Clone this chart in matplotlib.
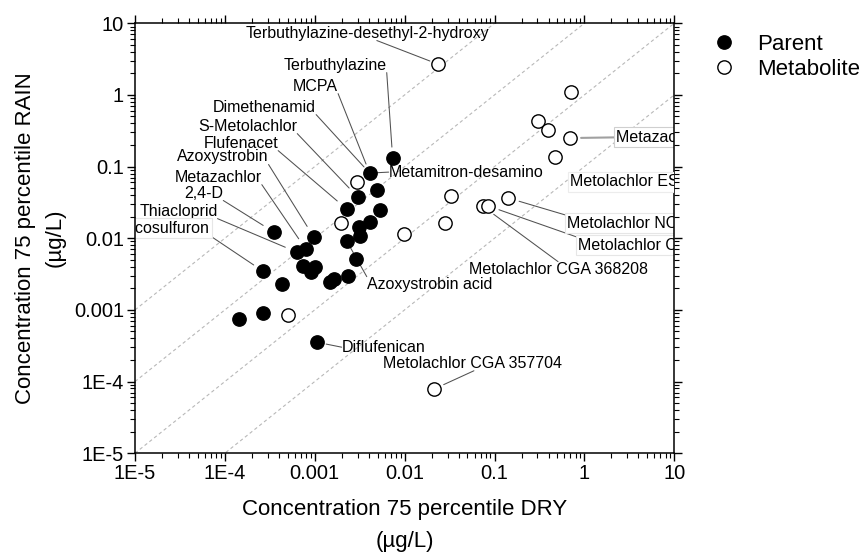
import numpy as np
import matplotlib
matplotlib.use('Agg')
import matplotlib.pyplot as plt
from matplotlib.lines import Line2D
from matplotlib.ticker import FixedLocator, FixedFormatter, LogLocator, NullFormatter

plt.rcParams['font.family'] = ['Liberation Sans', 'DejaVu Sans']

# 75 percentile concentrations (ug/L), dry vs rain
parent_dry = [0.00736, 0.00408, 0.00489, 0.00301, 0.00527, 0.00227, 0.00408, 0.00308,
              0.00316, 0.00227, 0.000975, 0.000794, 0.000631, 0.00286, 0.000736, 0.001,
              0.000903, 0.00233, 0.00163, 0.00147, 0.00035, 0.000265, 0.00043, 0.000265,
              0.000143, 0.00105]
parent_rain = [0.131, 0.0811, 0.047, 0.0375, 0.0247, 0.0255, 0.0168, 0.0143,
               0.0107, 0.00912, 0.0104, 0.00705, 0.0064, 0.0051, 0.00407, 0.00394,
               0.00336, 0.00296, 0.00268, 0.00244, 0.0122, 0.00347, 0.00229, 0.0009,
               0.00074, 0.000354]
metab_dry = [0.0233, 0.718, 0.308, 0.398, 0.699, 0.476, 0.0324, 0.143,
             0.0736, 0.0857, 0.0278, 0.00293, 0.00195, 0.00975, 0.0005, 0.021]
metab_rain = [2.70, 1.10, 0.432, 0.324, 0.25, 0.136, 0.0387, 0.0363,
              0.0281, 0.0281, 0.0163, 0.0608, 0.0163, 0.0114, 0.000844, 7.8e-5]

# ratio lines rain/dry
ratios = [100, 10, 1, 0.1]

tick_values = [1e-5, 1e-4, 1e-3, 1e-2, 1e-1, 1, 10]
tick_labels = ['1E-5', '1E-4', '0.001', '0.01', '0.1', '1', '10']

# labelled compounds: name, group (P=parent, M=metabolite), index in that group
label_names = ['Terbuthylazine-desethyl-2-hydroxy', 'Terbuthylazine', 'MCPA', 'Dimethenamid',
               'S-Metolachlor', 'Flufenacet', 'Azoxystrobin', 'Metazachlor', '2,4-D',
               'Thiacloprid', 'Nicosulfuron', 'Metamitron-desamino', 'Azoxystrobin acid',
               'Diflufenican', 'Metolachlor CGA 357704', 'Metolachlor CGA 368208',
               'Metolachlor CGA 37735', 'Metolachlor NOA 413173', 'Metazachlor ESA']
label_group = ['M', 'P', 'P', 'P', 'P', 'P', 'P', 'P', 'P', 'P', 'P', 'P', 'P', 'P',
               'M', 'M', 'M', 'M', 'M']
label_index = [0, 0, 1, 1, 3, 5, 10, 11, 20, 12, 21, 1, 9, 25, 15, 8, 9, 7, 4]

# label layout: text offset (pt), ha, line start (relpos), gap at point (pt), style
# style: 0 plain, 1 faint box clipped, 2 grey box clipped
label_layout = [
    ((-50.8, 22.3), 'center', (0.54, 0), 6, 0),
    ((-41.4, 67.0), 'center', (1, 0), 8, 0),
    ((-38.9, 62.6), 'center', (1, 0), 7, 0),
    ((-75.6, 47.5), 'center', (1, 0), 6, 0),
    ((-79.2, 51.1), 'center', (1, 0), 9, 0),
    ((-76.3, 47.5), 'center', (1, 0), 9, 0),
    ((-65.5, 57.6), 'center', (1, 0), 9, 0),
    ((-63.0, 51.8), 'center', (1, 0), 9, 0),
    ((-50.4, 28.1), 'center', (1, 0), 9, 0),
    ((-85.3, 29.5), 'center', (1, 0), 9, 0),
    ((-70.2, 31.0), 'center', (1, 0), 8, 1),
    ((13.7, 0.7), 'left', (0, 0.5), 5, 0),
    ((14.4, -31.0), 'left', (0, 1), 5, 0),
    ((18.0, -3.6), 'left', (0, 0.5), 7, 0),
    ((-36.7, 18.7), 'left', (0.51, 0), 8, 0),
    ((-10.1, -45.4), 'left', (0.5, 1), 10, 0),
    ((64.8, -28.1), 'left', (0, 1), 8, 1),
    ((42.5, -18.0), 'left', (0, 1), 8, 1),
    ((33.1, 0.5), 'left', (0, 0.5), 7.7, 2),
]

fig = plt.figure(figsize=(8.6, 5.54), dpi=100)
ax = fig.add_axes([0.157, 0.182, 0.627, 0.776])
ax.set_xscale('log')
ax.set_yscale('log')
ax.set_xlim(1e-5, 10)
ax.set_ylim(1e-5, 10)

xs = np.array([1e-5, 10])
for r in ratios:
    ax.plot(xs, r * xs, color='#b8b8b8', lw=0.8, linestyle=(0, (3, 2.5)), zorder=1)

ax.plot(parent_dry, parent_rain, 'o', color='black', markersize=9.6, zorder=3)
ax.plot(metab_dry, metab_rain, 'o', markerfacecolor='white', markeredgecolor='black',
        markeredgewidth=1.0, markersize=9.6, zorder=3)

groups = {'P': (parent_dry, parent_rain), 'M': (metab_dry, metab_rain)}
for name, g, i, lay in zip(label_names, label_group, label_index, label_layout):
    (dx, dy), ha, relpos, gap, style = lay
    gx, gy = groups[g]
    lc, lw = '#505050', 0.75
    box = None
    if style == 1:
        box = dict(boxstyle='square,pad=0.15', fc='white', ec='#e6e6e6', lw=0.8)
    elif style == 2:
        box = dict(boxstyle='square,pad=0.15', fc='white', ec='#cfcfcf', lw=0.8)
        lc, lw = '#a0a0a0', 1.5
    ann = ax.annotate(name, xy=(gx[i], gy[i]), xytext=(dx, dy), textcoords='offset points',
                      ha=ha, va='center', fontsize=11.5, bbox=box, zorder=2,
                      arrowprops=dict(arrowstyle='-', color=lc, lw=lw, patchA=None,
                                      shrinkA=0, shrinkB=gap, relpos=relpos))
    if style:
        ann.set_clip_path(ax.patch)
        ann.set_clip_on(True)

ax.text(0.807, 0.631, 'Metolachlor ESA', transform=ax.transAxes, ha='left', va='center',
        fontsize=11.5, clip_on=True,
        bbox=dict(boxstyle='square,pad=0.15', fc='white', ec='#ececec', lw=0.8))

for axis in (ax.xaxis, ax.yaxis):
    axis.set_major_locator(FixedLocator(tick_values))
    axis.set_major_formatter(FixedFormatter(tick_labels))
    axis.set_minor_locator(LogLocator(base=10, subs=np.arange(2, 10)))
    axis.set_minor_formatter(NullFormatter())

ax.tick_params(which='both', direction='out', top=True, right=True,
               labeltop=False, labelright=False)
ax.tick_params(which='major', length=6, width=1.0, labelsize=14.5, pad=2)
ax.tick_params(which='minor', length=3.5, width=0.8)
for s in ax.spines.values():
    s.set_linewidth(1.1)

ax.set_xlabel('Concentration 75 percentile DRY\n(µg/L)', fontsize=16, linespacing=1.7, labelpad=11.5)
ax.set_ylabel('Concentration 75 percentile RAIN\n(µg/L)', fontsize=16, linespacing=1.5, labelpad=6)

handles = [Line2D([], [], marker='o', linestyle='none', color='black', markersize=9.6),
           Line2D([], [], marker='o', linestyle='none', markerfacecolor='white',
                  markeredgecolor='black', markeredgewidth=1.0, markersize=9.6)]
ax.legend(handles, ['Parent', 'Metabolite'], loc='upper left', bbox_to_anchor=(1.072, 0.976),
          frameon=False, fontsize=16, borderpad=0, borderaxespad=0, handlelength=1.0,
          handletextpad=1.0, labelspacing=0.2)

fig.savefig('out.png', dpi=100)
